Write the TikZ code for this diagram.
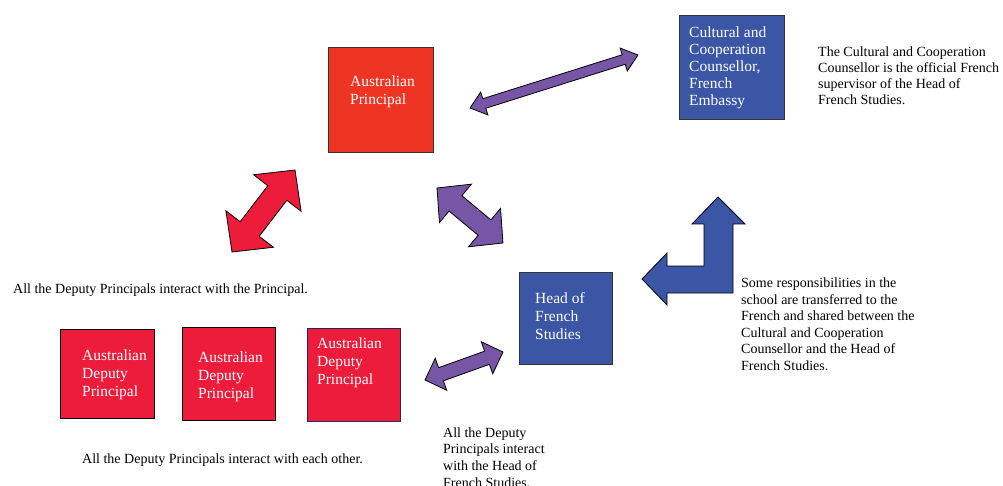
\documentclass[tikz,border=0pt]{standalone}
\usepackage{fontspec}
\setmainfont{Liberation Serif}
\definecolor{principalred}{HTML}{EE3524}
\definecolor{deputyred}{HTML}{EC1C3A}
\definecolor{linkpurple}{HTML}{7756A6}
\definecolor{frenchblue}{HTML}{3C56A6}
\definecolor{boxedge}{HTML}{333333}
\definecolor{navyedge}{HTML}{1F2A60}
\tikzset{
  box/.style={draw=boxedge, line width=0.9pt, inner sep=0pt, anchor=north west},
  % multi-line texts are placed by the baseline of their last line
  boxtext/.style={text=white, align=left, inner sep=0pt, anchor=base west,
    font=\fontsize{15.5}{18}\selectfont},
  note/.style={text=black, align=left, inner sep=0pt, anchor=base west,
    font=\fontsize{14}{16.6}\selectfont},
  arrowshape/.style={draw=black, line width=0.8pt, line join=miter},
}
% Double-headed block arrow from (#1,#2) to (#3,#4):
% #5 half shaft width, #6 half head width, #7 head length, #8 fill colour
\newcommand{\blockdbl}[8]{%
  \pgfmathsetmacro\arrang{atan2(-(#4-#2),#3-#1)}%
  \pgfmathsetmacro\arrlen{veclen(#3-#1,#4-#2)}%
  \begin{scope}[shift={(#1,#2)},rotate=\arrang]
    \draw[arrowshape,fill=#8] (0,0) -- (#7,#6) -- (#7,#5) -- (\arrlen-#7,#5)
      -- (\arrlen-#7,#6) -- (\arrlen,0) -- (\arrlen-#7,-#6) -- (\arrlen-#7,-#5)
      -- (#7,-#5) -- (#7,-#6) -- cycle;
  \end{scope}}
\begin{document}
\begin{tikzpicture}[x=1pt,y=-1pt]
\useasboundingbox (0,0) rectangle (1003,486);

% Boxes
\node[box, fill=principalred, minimum width=105pt, minimum height=105pt] (principal) at (328,47) {};
\node[box, fill=frenchblue, minimum width=105pt, minimum height=104pt] (counsellor) at (679,15) {};
\node[box, fill=frenchblue, minimum width=93pt, minimum height=92pt] (head) at (519,272) {};
\node[box, draw=black, fill=deputyred, minimum width=94pt, minimum height=89pt] (deputyA) at (60,329) {};
\node[box, draw=black, fill=deputyred, minimum width=93pt, minimum height=93pt] (deputyB) at (182,327) {};
\node[box, draw=navyedge, fill=deputyred, minimum width=93pt, minimum height=93pt] (deputyC) at (307,328) {};

% Box labels
\node[boxtext] (principal-t) at (350,105) {Australian\\Principal};
\node[boxtext, font=\fontsize{15.5}{17.2}\selectfont] (counsellor-t) at (689,106) {Cultural and\\Cooperation\\Counsellor,\\French\\Embassy};
\node[boxtext] (head-t) at (535,339) {Head of\\French\\Studies};
\node[boxtext] (deputyA-t) at (82,396) {Australian\\Deputy\\Principal};
\node[boxtext] (deputyB-t) at (198,398) {Australian\\Deputy\\Principal};
\node[boxtext] (deputyC-t) at (317,384) {Australian\\Deputy\\Principal};

% Notes
\node[note, font=\fontsize{14}{16.3}\selectfont] (note-counsellor) at (818,105) {The Cultural and Cooperation\\Counsellor is the official French\\supervisor of the Head of\\French Studies.};
\node[note, font=\fontsize{14}{16.5}\selectfont] (note-shared) at (741,370) {Some responsibilities in the\\school are transferred to the\\French and shared between the\\Cultural and Cooperation\\Counsellor and the Head of\\French Studies.};
\node[note] (note-principal) at (13,293) {All the Deputy Principals interact with the Principal.};
\node[note] (note-each) at (82,463) {All the Deputy Principals interact with each other.};
\node[note] (note-head) at (443,487) {All the Deputy\\Principals interact\\with the Head of\\French Studies.};

% Block arrows
\blockdbl{470}{108}{638}{55}{5}{12}{15}{linkpurple}
\blockdbl{232}{252}{295}{170}{12}{30}{29}{deputyred}
\blockdbl{437}{188}{503}{243}{10}{25}{24}{linkpurple}
\blockdbl{425}{380}{503}{352}{7}{17}{17}{linkpurple}

% Bent arrow between the Head of French Studies and the Counsellor
\draw[arrowshape, fill=frenchblue] (642,279) -- (667,253) -- (667,266) -- (704,266)
  -- (704,224) -- (692,224) -- (718,197) -- (745,224) -- (733,224) -- (733,293)
  -- (667,293) -- (667,305) -- cycle;
\end{tikzpicture}
\end{document}
